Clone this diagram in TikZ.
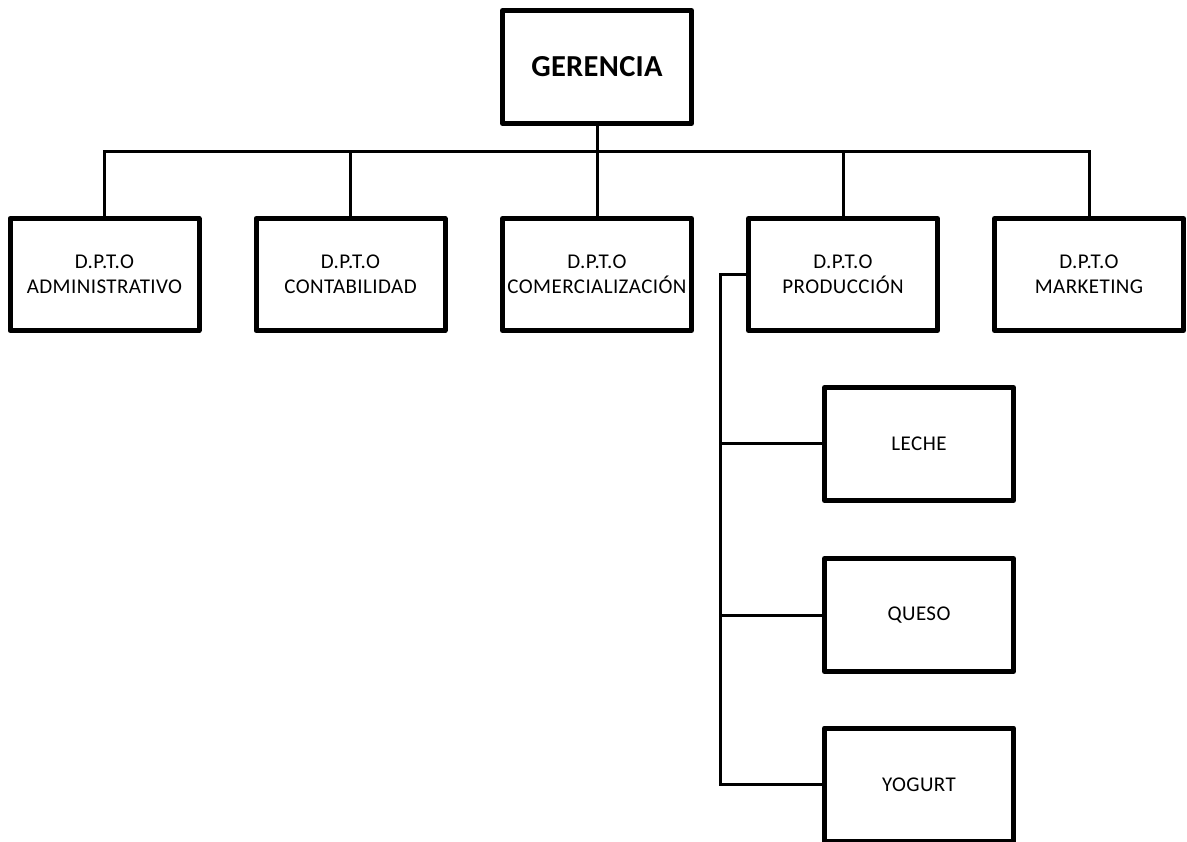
\documentclass[tikz,border=0pt]{standalone}
\usepackage{fontspec}
\setmainfont{Carlito}
\begin{document}
\begin{tikzpicture}[x=1pt,y=-1pt,
  box/.style={draw=black,line width=5pt,line join=round,fill=white,inner sep=0pt,
    minimum width=189pt,minimum height=112pt,align=center,
    font=\fontsize{21}{25}\selectfont\addfontfeature{LetterSpace=2}},
  topbox/.style={box,minimum width=189pt,minimum height=113pt,
    font=\fontsize{30.5}{34}\selectfont\bfseries\addfontfeature{LetterSpace=1}},
  subbox/.style={box,minimum width=189pt,minimum height=113pt},
  link/.style={draw=black,line width=3pt}]
\useasboundingbox (0,0) rectangle (1187,842);

% top level
\node[topbox] (ger) at (597,67) {GERENCIA};

% departments
\node[box] (adm) at (104.5,274.5) {D.P.T.O\\ADMINISTRATIVO};
\node[box] (con) at (350.5,274.5) {D.P.T.O\\CONTABILIDAD};
\node[box] (com) at (597,274.5) {D.P.T.O\\COMERCIALIZACIÓN};
\node[box] (pro) at (843,274.5) {D.P.T.O\\PRODUCCIÓN};
\node[box] (mkt) at (1089,274.5) {D.P.T.O\\MARKETING};

% production lines
\node[subbox] (lec) at (919,444) {LECHE};
\node[subbox] (que) at (919,615) {QUESO};
\node[subbox] (yog) at (919,784.5) {YOGURT};

% bus below the management box
\coordinate (busL) at (104.5,152);
\coordinate (busR) at (1089,152);
\coordinate (busM) at (597,152);
\draw[link] (ger.south) -- (busM);
\draw[link] (adm.north) -- (busL) -- (busR) -- (mkt.north);
\draw[link] (con.north) -- (con.north |- busM);
\draw[link] (com.north) -- (com.north |- busM);
\draw[link] (pro.north) -- (pro.north |- busM);

% branch from production to its lines
\coordinate (spine) at (720,275);
\draw[link] (pro.west |- spine) -- (spine) -- (spine |- yog.west) -- (yog.west);
\draw[link] (spine |- lec.west) -- (lec.west);
\draw[link] (spine |- que.west) -- (que.west);
\end{tikzpicture}
\end{document}
